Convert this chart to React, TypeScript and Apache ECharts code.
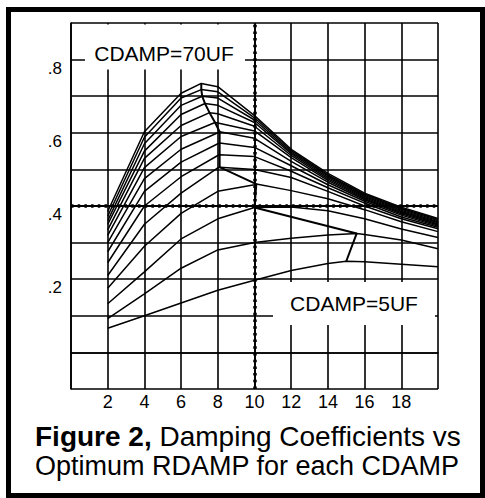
import React, { useEffect, useRef } from "react";
import * as echarts from "echarts";

// RDAMP sample points (x axis)
const rdamp = [2, 4, 6, 8, 10, 12, 14, 16, 18, 20];
const xTickLabels = [2, 4, 6, 8, 10, 12, 14, 16, 18];
const yTickLabels = [0.2, 0.4, 0.6, 0.8];
const cdamp = ["5UF", "10UF", "15UF", "20UF", "25UF", "30UF", "35UF", "40UF", "45UF", "50UF", "55UF", "60UF", "65UF", "70UF"];

// damping coefficient of each CDAMP curve at rdamp points
const c5 = [0.066, 0.1, 0.135, 0.17, 0.197, 0.224, 0.243, 0.248, 0.241, 0.234];
const c10 = [0.092, 0.16, 0.23, 0.28, 0.3, 0.312, 0.321, 0.322, 0.307, 0.283];
const c15 = [0.133, 0.22, 0.31, 0.365, 0.396, 0.397, 0.387, 0.365, 0.337, 0.314];
const c20 = [0.175, 0.29, 0.38, 0.44, 0.458, 0.442, 0.42, 0.39, 0.357, 0.33];
const c25 = [0.21, 0.35, 0.435, 0.504, 0.5, 0.478, 0.44, 0.4, 0.365, 0.338];
const c30 = [0.245, 0.4, 0.48, 0.538, 0.535, 0.495, 0.45, 0.408, 0.37, 0.342];
const c35 = [0.275, 0.44, 0.52, 0.57, 0.56, 0.51, 0.458, 0.413, 0.375, 0.345];
const c40 = [0.3, 0.475, 0.555, 0.6, 0.585, 0.522, 0.465, 0.417, 0.379, 0.348];
const c45 = [0.32, 0.505, 0.59, 0.627, 0.605, 0.532, 0.47, 0.42, 0.382, 0.351];
const c50 = [0.335, 0.53, 0.62, 0.652, 0.618, 0.538, 0.474, 0.423, 0.385, 0.354];
const c55 = [0.35, 0.55, 0.65, 0.675, 0.628, 0.543, 0.478, 0.426, 0.388, 0.357];
const c60 = [0.36, 0.57, 0.675, 0.695, 0.635, 0.547, 0.482, 0.429, 0.391, 0.36];
const c65 = [0.372, 0.588, 0.695, 0.712, 0.641, 0.551, 0.485, 0.432, 0.394, 0.363];
const c70 = [0.385, 0.603, 0.708, 0.726, 0.647, 0.555, 0.489, 0.435, 0.397, 0.366];

// optimum RDAMP and its coefficient for each CDAMP (same order as cdamp)
const optRdamp = [15.0, 15.57, 10.0, 10.1, 8.1, 8.1, 8.1, 8.1, 7.85, 7.55, 7.3, 7.15, 7.1, 7.1];
const optCoef = [0.249, 0.325, 0.396, 0.46, 0.506, 0.54, 0.572, 0.603, 0.628, 0.655, 0.68, 0.7, 0.718, 0.735];

const curves = [c5, c10, c15, c20, c25, c30, c35, c40, c45, c50, c55, c60, c65, c70];

const FONT = "'Liberation Sans', Arial, Helvetica, sans-serif";

export default function App() {
  const ref = useRef<HTMLDivElement>(null);
  useEffect(() => {
    if (!ref.current) return;
    const chart = echarts.init(ref.current, undefined, { renderer: "svg" });

    const series: any[] = curves.map((vals, i) => {
      const pts: number[][] = rdamp.map((x, j) => [x, vals[j]]);
      const ox = optRdamp[i];
      if (!rdamp.includes(ox)) pts.push([ox, optCoef[i]]);
      pts.sort((a, b) => a[0] - b[0]);
      return {
        name: cdamp[i],
        type: "line",
        data: pts,
        symbol: "none",
        lineStyle: { color: "#000", width: 1.5 },
        z: 3,
      };
    });

    series.push({
      name: "optimum",
      type: "line",
      data: optRdamp.map((x, i) => [x, optCoef[i]]),
      symbol: "none",
      lineStyle: { color: "#000", width: 2 },
      z: 4,
      markLine: {
        silent: true,
        symbol: "none",
        label: { show: false },
        lineStyle: { color: "#000", width: 1.8, type: "solid" },
        data: [{ yAxis: 0.4 }, { xAxis: 10 }],
      },
    });
    series.push({
      name: "axes-dots",
      type: "line",
      data: [],
      markLine: {
        silent: true,
        symbol: "none",
        label: { show: false },
        lineStyle: { color: "#000", width: 3.5, type: [2.5, 4.2] },
        data: [{ yAxis: 0.4 }, { xAxis: 10 }],
      },
    });

    chart.setOption({
      animation: false,
      backgroundColor: "#fff",
      grid: { left: 71, top: 23, width: 367, height: 366, containLabel: false },
      xAxis: {
        type: "value",
        min: 0,
        max: 20,
        interval: 2,
        axisLine: { show: true, lineStyle: { color: "#000", width: 1.6 } },
        axisTick: { show: false },
        splitLine: { show: true, lineStyle: { color: "#000", width: 1.6 } },
        axisLabel: {
          margin: 4,
          color: "#000",
          fontSize: 18,
          fontFamily: FONT,
          formatter: (v: number) => (xTickLabels.includes(Math.round(v)) ? String(Math.round(v)) : ""),
        },
      },
      yAxis: {
        type: "value",
        min: -0.1,
        max: 0.9,
        interval: 0.1,
        axisLine: { show: true, lineStyle: { color: "#000", width: 1.6 } },
        axisTick: { show: false },
        splitLine: { show: true, lineStyle: { color: "#000", width: 1.6 } },
        axisLabel: {
          margin: 9,
          color: "#000",
          fontSize: 17,
          fontFamily: FONT,
          verticalAlign: "top",
          formatter: (v: number) => {
            const r = Math.round(v * 10) / 10;
            return yTickLabels.some((t) => Math.abs(t - r) < 1e-6) ? "." + Math.round(r * 10) : "";
          },
        },
      },
      graphic: [
        { type: "rect", z: 50, shape: { x: 85, y: 24.5, width: 160, height: 45 }, style: { fill: "#fff" } },
        {
          type: "text", z: 51, x: 164, y: 53,
          style: { text: "CDAMP=70UF", fill: "#000", font: `21px ${FONT}`, align: "center", verticalAlign: "middle" },
        },
        { type: "rect", z: 50, shape: { x: 273, y: 282, width: 162, height: 43 }, style: { fill: "#fff" } },
        {
          type: "text", z: 51, x: 354, y: 303,
          style: { text: "CDAMP=5UF", fill: "#000", font: `21px ${FONT}`, align: "center", verticalAlign: "middle" },
        },
        {
          type: "text", z: 51, x: 35, y: 436,
          style: {
            text: "{b|Figure 2,}{r| Damping Coefficients vs}",
            verticalAlign: "middle",
            rich: {
              b: { fill: "#000", fontFamily: FONT, fontSize: 28, fontWeight: "bold" },
              r: { fill: "#000", fontFamily: FONT, fontSize: 28 },
            },
          },
        },
        {
          type: "text", z: 51, x: 35, y: 466,
          style: { text: "Optimum RDAMP for each CDAMP", fill: "#000", font: `27px ${FONT}`, verticalAlign: "middle" },
        },
        {
          type: "rect", z: 60,
          shape: { x: 8.5, y: 9.5, width: 474, height: 486 },
          style: { fill: "none", stroke: "#000", lineWidth: 5 },
        },
      ],
      series,
    });
    return () => chart.dispose();
  }, []);
  return (
    <div
      ref={ref}
      style={{ position: "fixed", left: 0, top: 0, width: 485, height: 498, background: "#fff" }}
    />
  );
}
